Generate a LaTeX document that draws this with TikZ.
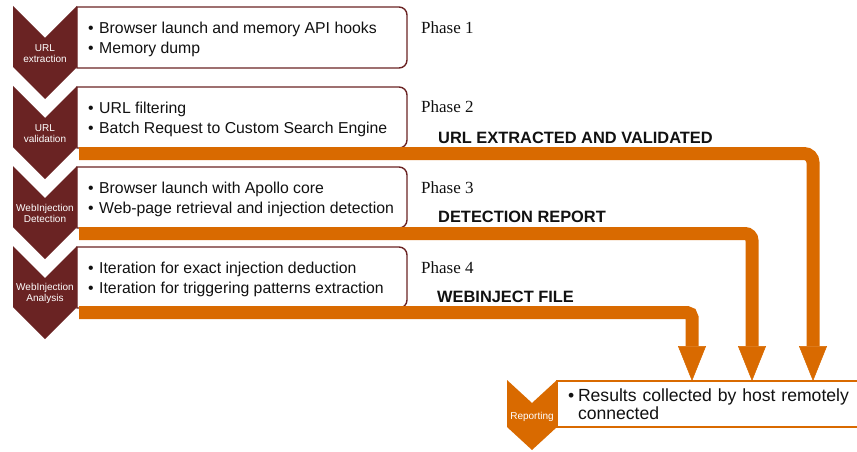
\documentclass[tikz,border=0pt]{standalone}
\usepackage{fontspec}
\setmainfont{Liberation Sans}
\newfontfamily\phasefont{Liberation Serif}
\usetikzlibrary{arrows.meta,calc}

\definecolor{wine}{HTML}{6A2323}
\definecolor{amber}{HTML}{D96A00}
\definecolor{inkblack}{HTML}{111111}

% bullet with a fixed-width slot so the text after it lines up
\newcommand\bul[1]{\makebox[#1][l]{\textbullet}}

% outline of a step box: square on the left, rounded on the right
\newcommand\roundright[1]{%
  \draw[wine, line width=1.4pt]
    (#1.north west) -- ([xshift=-8pt]#1.north east)
    arc[start angle=90, end angle=0, radius=8pt]
    -- ([yshift=8pt]#1.south east)
    arc[start angle=0, end angle=-90, radius=8pt]
    -- (#1.south west) -- cycle;}

\begin{document}
\begin{tikzpicture}[x=1pt, y=-1pt,
  stepbox/.style={anchor=north west, minimum width=330pt, minimum height=61pt,
    inner sep=0pt, outer sep=0pt},
  steptext/.style={anchor=west, inner sep=0pt, align=left, text=inkblack,
    font=\fontsize{15.8}{20}\selectfont},
  chevlabel/.style={text=white, align=center, inner sep=0pt,
    font=\fontsize{10}{11.5}\selectfont},
  phase/.style={anchor=west, inner sep=0pt, text=inkblack,
    font=\phasefont\fontsize{17}{20}\selectfont},
  result/.style={anchor=west, inner sep=0pt, text=inkblack,
    font=\bfseries\fontsize{16.4}{20}\selectfont},
  chevron/.pic={\fill[wine] (-32,0) -- (0,32) -- (32,0) -- (32,61) -- (0,93) -- (-32,61) -- cycle;},
  flow/.style={draw=amber, line width=13pt,
    -{Triangle[width=28pt, length=35pt, line width=0.5pt, fill=amber, color=amber]}},
]
\useasboundingbox (0,0) rectangle (857,452);

% step boxes
\node[stepbox] (b1) at (77,7)   {};
\node[stepbox] (b2) at (77,87)  {};
\node[stepbox] (b3) at (77,167) {};
\node[stepbox] (b4) at (77,247) {};
\roundright{b1}
\roundright{b2}
\roundright{b3}
\roundright{b4}

\node[steptext] (t1) at ($(b1.west)+(11,2)$) {\bul{11pt}Browser launch and memory API hooks\\\bul{11pt}Memory dump};
\node[steptext] (t2) at ($(b2.west)+(11,2)$) {\bul{11pt}URL filtering\\\bul{11pt}Batch Request to Custom Search Engine};
\node[steptext] (t3) at ($(b3.west)+(11,2)$) {\bul{11pt}Browser launch with Apollo core\\\bul{11pt}Web-page retrieval and injection detection};
\node[steptext] (t4) at ($(b4.west)+(11,2)$) {\bul{11pt}Iteration for exact injection deduction\\\bul{11pt}Iteration for triggering patterns extraction};

% step chevrons
\pic at (45,6)   {chevron};
\pic at (45,86)  {chevron};
\pic at (45,166) {chevron};
\pic at (45,246) {chevron};
\node[chevlabel] (c1) at (45,53.5)  {URL\\extraction};
\node[chevlabel] (c2) at (45,133.5) {URL\\validation};
\node[chevlabel] (c3) at (45,213.5) {WebInjection\\Detection};
\node[chevlabel] (c4) at (45,293.5) {WebInjection\\Analysis};

% phase names
\node[phase] (p1) at (421,28)  {Phase 1};
\node[phase] (p2) at (421,107) {Phase 2};
\node[phase] (p3) at (421,188) {Phase 3};
\node[phase] (p4) at (421,268) {Phase 4};

% reporting step
\node[anchor=north west, draw=amber, line width=1.4pt, fill=white,
  minimum width=330pt, minimum height=46pt, inner xsep=11pt, inner ysep=0pt,
  outer sep=0pt, text width=308pt, align=left, text=inkblack,
  font=\fontsize{17.6}{17.5}\selectfont] (rep) at (557,381)
  {\bul{10pt}Results collected by host remotely\\\hspace*{10pt}connected};
\fill[amber] (507,380) -- (532,403) -- (557,380) -- (557,427) -- (532,450) -- (507,427) -- cycle;
\node[chevlabel] (cr) at (532,417) {Reporting};

% outputs of the phases
\draw[flow, rounded corners=9pt] ($(b2.south west)+(2,5.5)$) -| ($(rep.north west)+(256,0)$);
\draw[flow, rounded corners=7pt] ($(b3.south west)+(2,5.5)$) -| ($(rep.north west)+(195,0)$);
\draw[flow, rounded corners=5pt] ($(b4.south west)+(2,4.5)$) -| ($(rep.north west)+(135,0)$);

\node[result] (r1) at (438,138) {URL EXTRACTED AND VALIDATED};
\node[result] (r2) at (438,217) {DETECTION REPORT};
\node[result] (r3) at (437,297) {WEBINJECT FILE};
\end{tikzpicture}
\end{document}
